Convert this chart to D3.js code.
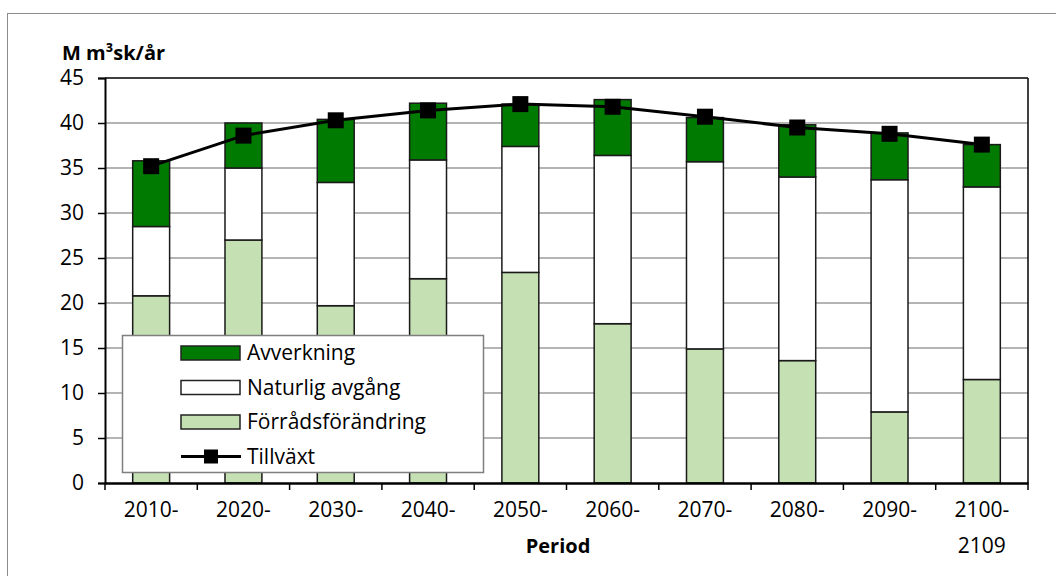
<!DOCTYPE html>
<html>
<head>
<meta charset="utf-8">
<script src="https://cdn.jsdelivr.net/npm/d3@7"></script>
<style>
    body { margin: 0; background: #fff; }
    #chart { width: 1056px; height: 576px; }
    text { font-family: 'Open Sans', sans-serif; fill: #000; }
</style>
</head>
<body>
<div id="chart"></div>
<script>
//Data
const perioder = ['2010-', '2020-', '2030-', '2040-', '2050-', '2060-', '2070-', '2080-', '2090-', '2100-'];
const forrad = [20.8, 27.0, 19.7, 22.7, 23.4, 17.7, 14.9, 13.6, 7.9, 11.5];
const naturlig = [7.7, 8.0, 13.7, 13.2, 14.0, 18.7, 20.8, 20.4, 25.8, 21.4];
const avverkning = [7.3, 5.0, 7.0, 6.3, 4.7, 6.2, 4.9, 5.8, 5.2, 4.7];
const tillvaxt = [35.2, 38.6, 40.3, 41.4, 42.1, 41.8, 40.7, 39.5, 38.8, 37.6];
const yTicks = [0, 5, 10, 15, 20, 25, 30, 35, 40, 45];

const COLOR_AVV = '#007A00',
COLOR_NAT = '#ffffff',
COLOR_FOR = '#C5E0B3';

let tipos = ['Förrådsförändring', 'Naturlig avgång', 'Avverkning'];
let color = d3.scaleOrdinal().domain(tipos).range([COLOR_FOR, COLOR_NAT, COLOR_AVV]);

let data = perioder.map(function(p, i) {
    return { period: p, 'Förrådsförändring': forrad[i], 'Naturlig avgång': naturlig[i], 'Avverkning': avverkning[i], tillvaxt: tillvaxt[i] };
});

let margin = {top: 78, right: 28, bottom: 93, left: 105},
    width = 1056 - margin.left - margin.right,
    height = 576 - margin.top - margin.bottom;

let root = d3.select('#chart').append('svg')
    .attr('width', 1056)
    .attr('height', 576);

//Marco exterior
root.append('rect')
    .attr('x', 7.5).attr('y', 13.5)
    .attr('width', 1060).attr('height', 580)
    .attr('fill', 'none')
    .attr('stroke', '#8c8c8c')
    .attr('stroke-width', 1);

let svg = root.append('g')
    .attr('transform', 'translate(' + margin.left + ',' + margin.top + ')');

let x = d3.scaleBand()
    .domain(perioder)
    .range([0, width])
    .paddingInner(0.6)
    .paddingOuter(0.3);

let xb = d3.scaleBand().domain(perioder).range([0, width]);

let y = d3.scaleLinear()
    .domain([0, 45])
    .range([height, 0]);

//Grid
svg.append('g')
    .selectAll('line')
    .data(yTicks.filter(function(d) { return d > 0 && d < 45; }))
    .enter()
    .append('line')
    .attr('x1', 0).attr('x2', width)
    .attr('y1', function(d) { return y(d); })
    .attr('y2', function(d) { return y(d); })
    .attr('stroke', '#b4b4b4')
    .attr('stroke-width', 2);

//Barras apiladas
let stack = d3.stack().keys(tipos)(data);

svg.append('g')
    .selectAll('g')
    .data(stack)
    .enter()
    .append('g')
    .attr('fill', function(d) { return color(d.key); })
    .selectAll('rect')
    .data(function(d) { return d; })
    .enter()
    .append('rect')
    .attr('x', function(d) { return x(d.data.period); })
    .attr('width', x.bandwidth())
    .attr('y', function(d) { return y(d[1]); })
    .attr('height', function(d) { return y(d[0]) - y(d[1]); })
    .attr('stroke', '#1a1a1a')
    .attr('stroke-width', 1.5);

//Marco del área
svg.append('line').attr('x1', 0).attr('x2', width).attr('y1', 0).attr('y2', 0).attr('stroke', '#000').attr('stroke-width', 1.5);
svg.append('line').attr('x1', width).attr('x2', width).attr('y1', 0).attr('y2', height + 7).attr('stroke', '#000').attr('stroke-width', 1.5);

//Eje Y
let yAxis = svg.append('g')
    .call(d3.axisLeft(y).tickValues(yTicks).tickSize(7).tickPadding(14));
yAxis.select('.domain').attr('stroke', '#000').attr('stroke-width', 2);
yAxis.selectAll('.tick line').attr('stroke-width', 1.5);
yAxis.selectAll('text').style('font-size', '21px');

//Eje X
let xAxis = svg.append('g')
    .attr('transform', 'translate(0,' + height + ')')
    .call(d3.axisBottom(xb).tickSize(0).tickPadding(19));
xAxis.select('.domain').attr('stroke', '#000').attr('stroke-width', 2.5);
xAxis.selectAll('text').style('font-size', '21px');

//Marcas entre categorías
xAxis.append('g')
    .selectAll('line')
    .data(perioder)
    .enter()
    .append('line')
    .attr('x1', function(d) { return xb(d); })
    .attr('x2', function(d) { return xb(d); })
    .attr('y1', 0).attr('y2', 7)
    .attr('stroke', '#000')
    .attr('stroke-width', 1.5);

//Segunda línea de la última etiqueta
xAxis.append('text')
    .attr('x', xb('2100-') + xb.bandwidth() / 2)
    .attr('y', 70)
    .attr('text-anchor', 'middle')
    .style('font-size', '21px')
    .text('2109');

//Línea Tillväxt
let line = d3.line()
    .x(function(d) { return x(d.period) + x.bandwidth() / 2; })
    .y(function(d) { return y(d.tillvaxt); });

svg.append('path')
    .datum(data)
    .attr('d', line)
    .attr('fill', 'none')
    .attr('stroke', '#000')
    .attr('stroke-width', 3);

svg.append('g')
    .selectAll('rect')
    .data(data)
    .enter()
    .append('rect')
    .attr('x', function(d) { return x(d.period) + x.bandwidth() / 2 - 8; })
    .attr('y', function(d) { return y(d.tillvaxt) - 8; })
    .attr('width', 16)
    .attr('height', 16)
    .attr('fill', '#000');

//Títulos
root.append('text')
    .attr('x', 62).attr('y', 60)
    .style('font-size', '20px')
    .style('font-weight', '700')
    .text('M m³sk/år');

root.append('text')
    .attr('x', 558).attr('y', 553)
    .attr('text-anchor', 'middle')
    .style('font-size', '20px')
    .style('font-weight', '700')
    .text('Period');

//Leyenda
let legend = root.append('g');
legend.append('rect')
    .attr('x', 122.5).attr('y', 335.5)
    .attr('width', 361).attr('height', 137)
    .attr('fill', '#fff')
    .attr('stroke', '#7f7f7f')
    .attr('stroke-width', 1.5);

let legendItems = ['Avverkning', 'Naturlig avgång', 'Förrådsförändring'];
legendItems.forEach(function(k, i) {
    let cy = 353 + i * 34.5;
    legend.append('rect')
        .attr('x', 181).attr('y', cy - 7)
        .attr('width', 59).attr('height', 14)
        .attr('fill', color(k))
        .attr('stroke', '#222')
        .attr('stroke-width', 1.5);
    legend.append('text')
        .attr('x', 247).attr('y', cy + 7)
        .style('font-size', '21px')
        .text(k);
});
let ly = 353 + 3 * 34.5;
legend.append('line')
    .attr('x1', 181).attr('x2', 241)
    .attr('y1', ly).attr('y2', ly)
    .attr('stroke', '#000').attr('stroke-width', 3);
legend.append('rect')
    .attr('x', 204).attr('y', ly - 7)
    .attr('width', 14).attr('height', 14)
    .attr('fill', '#000');
legend.append('text')
    .attr('x', 247).attr('y', ly + 7)
    .style('font-size', '21px')
    .text('Tillväxt');
</script>
</body>
</html>
